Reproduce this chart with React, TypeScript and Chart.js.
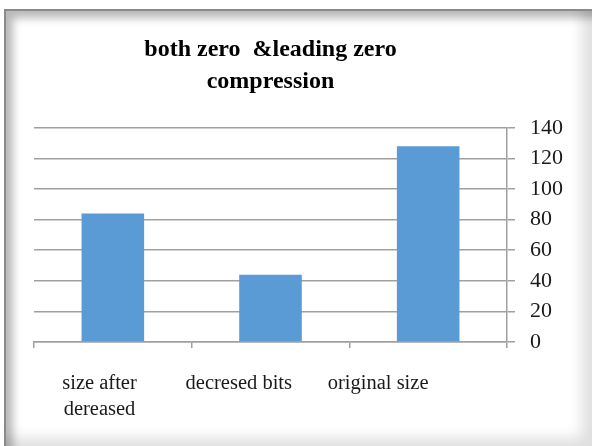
import React, { useEffect, useRef } from "react";
import { Chart, registerables } from "chart.js";

Chart.register(...registerables);

const titleLines = ["both zero  &leading zero", "compression"];
const categories: string[][] = [["size after", "dereased"], ["decresed bits"], ["original size"]];
const values = [84, 44, 128];
const yMin = 0;
const yMax = 140;
const yStep = 20;

const SERIF = "'Liberation Serif', 'DejaVu Serif', serif";

export default function App() {
  const ref = useRef<HTMLCanvasElement | null>(null);

  useEffect(() => {
    if (!ref.current) return;
    const chart = new Chart(ref.current, {
      type: "bar",
      data: {
        labels: categories.map((c) => c.join(" ")),
        datasets: [
          {
            data: values,
            backgroundColor: "#5B9BD5",
            borderWidth: 0,
            categoryPercentage: 1,
            barPercentage: 0.397,
          },
        ],
      },
      options: {
        responsive: false,
        animation: false,
        layout: { padding: { left: 34, right: 0, top: 0, bottom: 24 } },
        plugins: {
          legend: { display: false },
          tooltip: { enabled: false },
          title: {
            display: true,
            text: titleLines,
            fullSize: false,
            color: "#000",
            font: { family: SERIF, size: 24, weight: "bold", lineHeight: 1.33 },
            padding: { top: 34, bottom: 30 },
          },
        },
        scales: {
          x: {
            type: "category",
            position: "bottom",
            weight: 0,
            grid: {
              display: true,
              drawOnChartArea: false,
              drawTicks: true,
              tickLength: 6,
              offset: true,
              color: "#a0a0a0",
              lineWidth: 1.5,
            },
            border: { display: true, color: "#a0a0a0", width: 1.5 },
            ticks: { display: false },
            afterFit: (axis: any) => {
              axis.height = 6;
            },
          },
          x2: {
            type: "linear",
            position: "bottom",
            weight: 1,
            offset: false,
            min: 0.53,
            max: 3.925,
            grid: { display: false, drawTicks: false, offset: false },
            border: { display: false },
            ticks: {
              stepSize: 1,
              includeBounds: false,
              autoSkip: false,
              maxRotation: 0,
              padding: 23,
              color: "#1a1a1a",
              font: { family: SERIF, size: 20.5, lineHeight: 1.27 },
              callback: (v: any) => {
                const i = Math.round(Number(v)) - 1;
                return categories[i] ?? "";
              },
            },
            afterFit: (axis: any) => {
              axis.height = 74;
            },
          },
          y: {
            position: "right",
            min: yMin,
            max: yMax,
            grid: {
              color: "#a0a0a0",
              lineWidth: 1.5,
              drawTicks: true,
              tickLength: 8,
            },
            border: { display: true, color: "#a0a0a0", width: 1.5 },
            ticks: {
              stepSize: yStep,
              padding: 15,
              color: "#1a1a1a",
              font: { family: SERIF, size: 22 },
            },
            afterFit: (axis: any) => {
              axis.width = 85;
            },
          },
        },
      },
    } as any);
    return () => chart.destroy();
  }, []);

  return (
    <div
      style={{
        position: "fixed",
        left: 0,
        top: 0,
        width: 592,
        height: 446,
        background: "#fff",
        overflow: "hidden",
      }}
    >
      <div
        style={{
          position: "absolute",
          left: 4,
          top: 9,
          width: 592,
          height: 441,
          boxSizing: "border-box",
          borderLeft: "2px solid #8a8a8a",
          borderTop: "2px solid #8a8a8a",
          background: "#fff",
          boxShadow:
            "inset 7px 7px 9px rgba(0,0,0,0.28), inset -14px -12px 14px rgba(0,0,0,0.13)",
        }}
      />
      <canvas
        ref={ref}
        width={592}
        height={446}
        style={{ position: "absolute", left: 0, top: 0, width: 592, height: 446 }}
      />
    </div>
  );
}
